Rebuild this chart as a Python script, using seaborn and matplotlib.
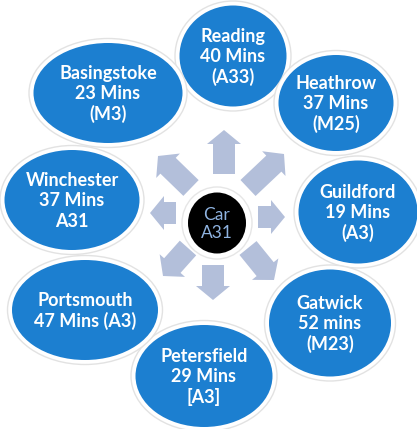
import matplotlib
matplotlib.use("Agg")
import matplotlib.pyplot as plt
import seaborn as sns
from matplotlib.patches import Ellipse, FancyArrow

sns.set_theme(style="white")
plt.rcParams['font.family'] = ['Lato', 'DejaVu Sans']

# Data
places = ["Reading", "Heathrow", "Guildford", "Gatwick", "Petersfield",
          "Portsmouth", "Winchester", "Basingstoke"]
labels = ["Reading\n40 Mins\n(A33)", "Heathrow\n37 Mins\n(M25)", "Guildford\n19 Mins\n(A3)",
          "Gatwick\n52 mins\n(M23)", "Petersfield\n29 Mins\n[A3]", "Portsmouth\n47 Mins (A3)",
          "Winchester\n37 Mins\nA31", "Basingstoke\n23 Mins\n(M3)"]
centre_label = "Car\nA31"

# Layout (pixel coords, y downward)
ell_x = [233, 336, 358, 330, 204, 85, 72, 108]
ell_y = [56, 103, 212, 323, 376, 310, 200, 93]
ell_w = [107, 115, 119, 122, 137, 146, 135, 149]
ell_h = [101, 96, 103, 107, 102, 100, 100, 100]

arr_tail = [(224, 174), (248, 188), (258, 217), (248, 248), (213, 265), (188, 248), (176, 213), (191, 188)]
arr_tip = [(224, 130), (284, 154), (285, 217), (274, 280), (213, 300), (163, 276), (150, 213), (158, 156)]

W, H = 417, 429
fig = plt.figure(figsize=(W / 100, H / 100), dpi=100)
ax = fig.add_axes([0, 0, 1, 1])
ax.set_xlim(0, W)
ax.set_ylim(H, 0)
ax.set_aspect('auto')
ax.axis('off')

blue = '#1c7fd0'
arrow_col = '#b3bfda'

for (tx, ty), (hx, hy) in zip(arr_tail, arr_tip):
    ax.add_patch(FancyArrow(tx, ty, hx - tx, hy - ty, width=22, head_width=34,
                            head_length=14, length_includes_head=True,
                            color=arrow_col, lw=0, zorder=2))

for x, y, w, h, lab in zip(ell_x, ell_y, ell_w, ell_h, labels):
    ax.add_patch(Ellipse((x, y), w + 9, h + 9, facecolor='white', edgecolor='#e2e2e2', lw=1.0, zorder=3))
    ax.add_patch(Ellipse((x, y), w, h, facecolor=blue, edgecolor='none', zorder=4))
    ax.text(x, y + 1, lab, ha='center', va='center', color='white', fontsize=13,
            fontweight='bold', linespacing=1.22, zorder=5)

# centre node
ax.add_patch(Ellipse((217, 223), 70, 72, facecolor='white', edgecolor='#e6e6e6', lw=1.0, zorder=3))
ax.add_patch(Ellipse((217, 223), 58, 61, facecolor='black', edgecolor='none', zorder=4))
ax.text(217, 224, centre_label, ha='center', va='center', color='#8fb3e0', fontsize=12.5,
        linespacing=1.15, zorder=5)

fig.savefig('out.png', dpi=100)
